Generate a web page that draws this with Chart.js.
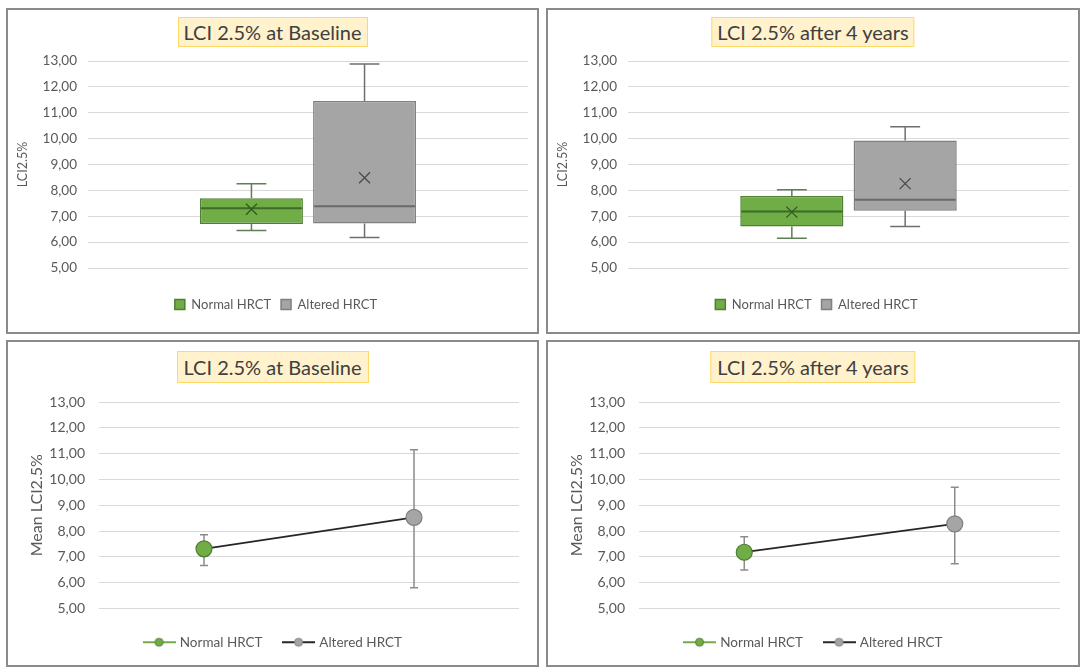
<!DOCTYPE html>
<html>
<head>
<meta charset="utf-8">
<script src="https://cdn.jsdelivr.net/npm/chart.js@4.4.1/dist/chart.umd.min.js"></script>
<style>
  body { margin: 0; background: #fff; font-family: Lato, "Open Sans", sans-serif; }
  #page { position: relative; width: 1084px; height: 672px; overflow: hidden; }
  .panel { position: absolute; box-sizing: border-box; border: 2px solid #8a8a8a; background: #fff; }
  .panel canvas { position: absolute; left: 0; top: 0; }
  .title {
    position: absolute; left: 50%; transform: translateX(-50%);
    white-space: nowrap; font-size: 20px; color: #404040; line-height: 26px;
    padding: 1px 5px; background: #fff2cc; border: 1.5px solid #ffd966;
  }
</style>
</head>
<body>
<div id="page">
  <div class="panel" style="left:6px;top:8px;width:533px;height:326px">
    <canvas id="boxBase" width="529" height="322"></canvas>
    <div class="title" style="top:7px">LCI 2.5% at Baseline</div>
  </div>
  <div class="panel" style="left:546px;top:8px;width:534px;height:326px">
    <canvas id="boxYear" width="530" height="322"></canvas>
    <div class="title" style="top:7px">LCI 2.5% after 4 years</div>
  </div>
  <div class="panel" style="left:6px;top:340px;width:533px;height:327px">
    <canvas id="meanBase" width="529" height="323"></canvas>
    <div class="title" style="top:9px;padding:2px 6px">LCI 2.5% at Baseline</div>
  </div>
  <div class="panel" style="left:546px;top:340px;width:534px;height:327px">
    <canvas id="meanYear" width="530" height="323"></canvas>
    <div class="title" style="top:9px;padding:2px 6px">LCI 2.5% after 4 years</div>
  </div>
</div>
<script>
// groups
const groups = ['Normal HRCT', 'Altered HRCT'];

// box plots, baseline
const baseMin = [6.45, 6.18];
const baseQ1 = [6.70, 6.72];
const baseMedian = [7.31, 7.39];
const baseQ3 = [7.70, 11.45];
const baseMax = [8.26, 12.88];
const baseMean = [7.27, 8.49];

// box plots, after 4 years
const yearMin = [6.15, 6.60];
const yearQ1 = [6.60, 7.21];
const yearMedian = [7.18, 7.64];
const yearQ3 = [7.78, 9.93];
const yearMax = [8.02, 10.46];
const yearMean = [7.16, 8.26];

// mean + error bars
const baseMeanLci = [7.31, 8.53];
const baseLow = [6.67, 5.80];
const baseHigh = [7.86, 11.15];
const yearMeanLci = [7.18, 8.28];
const yearLow = [6.49, 6.73];
const yearHigh = [7.78, 9.70];

const fills = ['#70ad47', '#a5a5a5'];
const borders = ['#507e32', '#7f7f7f'];
const medianColors = ['#3d6b26', '#6a6a6a'];
const whiskerColors = ['#5f7f55', '#6f6f6f'];
const textColor = '#595959';

Chart.defaults.font.family = 'Lato, "Open Sans", sans-serif';
Chart.defaults.color = textColor;
Chart.defaults.animation = false;

const fmt = v => v.toFixed(2).replace('.', ',');

function yScale(opts) {
  return {
    min: 5, max: 13,
    ticks: { stepSize: 1, callback: fmt, padding: opts.tickPad, font: { size: opts.tickSize }, color: textColor },
    grid: { color: '#d9d9d9', drawTicks: false },
    border: { display: false },
    title: { display: true, text: opts.title, color: textColor, font: { size: opts.titleSize }, padding: { top: opts.titlePad } },
    afterFit: s => { s.width = opts.width; }
  };
}

// whiskers, median and mean mark on top of the floating bars
const boxPlugin = {
  id: 'boxParts',
  afterDatasetsDraw(chart, args, o) {
    const { ctx } = chart;
    const y = chart.scales.y;
    chart.data.datasets.forEach((ds, i) => {
      const bar = chart.getDatasetMeta(i).data[0];
      const x = bar.x, half = bar.width / 2, cap = bar.width * 0.145;
      ctx.save();
      ctx.lineWidth = 1.5;
      ctx.strokeStyle = whiskerColors[i];
      ctx.beginPath();
      ctx.moveTo(x, y.getPixelForValue(o.q3[i])); ctx.lineTo(x, y.getPixelForValue(o.max[i]));
      ctx.moveTo(x - cap, y.getPixelForValue(o.max[i])); ctx.lineTo(x + cap, y.getPixelForValue(o.max[i]));
      ctx.moveTo(x, y.getPixelForValue(o.q1[i])); ctx.lineTo(x, y.getPixelForValue(o.min[i]));
      ctx.moveTo(x - cap, y.getPixelForValue(o.min[i])); ctx.lineTo(x + cap, y.getPixelForValue(o.min[i]));
      ctx.stroke();
      ctx.lineWidth = 2;
      ctx.strokeStyle = medianColors[i];
      ctx.beginPath();
      const my = y.getPixelForValue(o.median[i]);
      ctx.moveTo(x - half + 1, my); ctx.lineTo(x + half - 1, my);
      ctx.stroke();
      const ay = y.getPixelForValue(o.mean[i]), r = 5.5;
      ctx.lineWidth = 1.3;
      ctx.strokeStyle = i === 0 ? '#2f5a1f' : '#4a4a4a';
      ctx.beginPath();
      ctx.moveTo(x - r, ay - r); ctx.lineTo(x + r, ay + r);
      ctx.moveTo(x - r, ay + r); ctx.lineTo(x + r, ay - r);
      ctx.stroke();
      ctx.restore();
    });
  }
};

function boxChart(id, d) {
  return new Chart(document.getElementById(id), {
    type: 'bar',
    data: {
      labels: [''],
      datasets: groups.map((g, i) => ({
        label: g,
        data: [[d.q1[i], d.q3[i]]],
        backgroundColor: fills[i],
        borderColor: borders[i],
        borderWidth: 1.5,
        borderSkipped: false,
        categoryPercentage: 0.514,
        barPercentage: 0.91
      }))
    },
    options: {
      responsive: false,
      layout: { padding: { top: 51, right: 9, left: 16, bottom: 11 } },
      scales: {
        x: { ticks: { display: false }, grid: { display: false }, border: { display: false }, afterFit: s => { s.height = 20; } },
        y: yScale({ title: 'LCI2.5%', titleSize: 12.5, titlePad: -8.5, tickSize: 13.5, tickPad: 11, width: 64 })
      },
      plugins: {
        legend: {
          position: 'bottom',
          labels: { boxWidth: 10, boxHeight: 10, font: { size: 13 }, color: textColor, padding: 10 }
        },
        tooltip: { enabled: false },
        boxParts: d
      }
    },
    plugins: [boxPlugin]
  });
}

boxChart('boxBase', { min: baseMin, q1: baseQ1, median: baseMedian, q3: baseQ3, max: baseMax, mean: baseMean });
boxChart('boxYear', { min: yearMin, q1: yearQ1, median: yearMedian, q3: yearQ3, max: yearMax, mean: yearMean });

// legend marker: short line with a dot
function marker(lineColor, dotFill, dotStroke) {
  const c = document.createElement('canvas');
  c.width = 33; c.height = 12;
  const g = c.getContext('2d');
  g.strokeStyle = lineColor; g.lineWidth = 2;
  g.beginPath(); g.moveTo(0, 6); g.lineTo(33, 6); g.stroke();
  g.fillStyle = dotFill; g.strokeStyle = dotStroke; g.lineWidth = 1;
  g.beginPath(); g.arc(16.5, 6, 4, 0, Math.PI * 2); g.fill(); g.stroke();
  return c;
}
const markers = [marker('#70ad47', '#70ad47', '#507e32'), marker('#262626', '#a5a5a5', '#7f7f7f')];

const errorPlugin = {
  id: 'errorBars',
  beforeDatasetsDraw(chart, args, o) {
    const { ctx } = chart;
    const y = chart.scales.y;
    chart.getDatasetMeta(0).data.forEach((pt, i) => {
      const top = y.getPixelForValue(o.high[i]), bot = y.getPixelForValue(o.low[i]);
      ctx.save();
      ctx.strokeStyle = '#8c8c8c';
      ctx.lineWidth = 1.5;
      ctx.beginPath();
      ctx.moveTo(pt.x, top); ctx.lineTo(pt.x, bot);
      ctx.moveTo(pt.x - 4, top); ctx.lineTo(pt.x + 4, top);
      ctx.moveTo(pt.x - 4, bot); ctx.lineTo(pt.x + 4, bot);
      ctx.stroke();
      ctx.restore();
    });
  }
};

function meanChart(id, means, low, high) {
  return new Chart(document.getElementById(id), {
    type: 'line',
    data: {
      labels: groups,
      datasets: [{
        label: 'Mean LCI2.5%',
        data: means,
        borderColor: '#262626',
        borderWidth: 1.8,
        pointRadius: 8,
        pointBackgroundColor: fills,
        pointBorderColor: borders,
        pointBorderWidth: 1.2,
        tension: 0
      }]
    },
    options: {
      responsive: false,
      layout: { padding: { top: 60, right: 18, left: 20, bottom: 6 } },
      scales: {
        x: { offset: true, ticks: { display: false }, grid: { display: false }, border: { display: false }, afterFit: s => { s.height = 5; } },
        y: yScale({ title: 'Mean LCI2.5%', titleSize: 16, titlePad: -1, tickSize: 14, tickPad: 14, width: 71 })
      },
      plugins: {
        legend: {
          position: 'bottom',
          labels: {
            usePointStyle: true, pointStyleWidth: 28, boxHeight: 12,
            font: { size: 13.5 }, color: textColor, padding: 22,
            generateLabels: () => groups.map((g, i) => ({
              text: g, pointStyle: markers[i], fillStyle: 'transparent', strokeStyle: 'transparent',
              lineWidth: 0, hidden: false, datasetIndex: 0, fontColor: textColor
            }))
          }
        },
        tooltip: { enabled: false },
        errorBars: { low, high }
      }
    },
    plugins: [errorPlugin]
  });
}

meanChart('meanBase', baseMeanLci, baseLow, baseHigh);
meanChart('meanYear', yearMeanLci, yearLow, yearHigh);
</script>
</body>
</html>
